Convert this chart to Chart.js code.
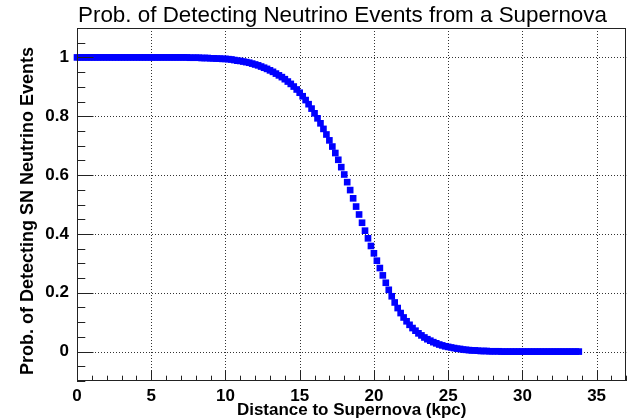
<!DOCTYPE html>
<html>
<head>
<meta charset="utf-8">
<script src="https://cdn.jsdelivr.net/npm/chart.js@4.4.1/dist/chart.umd.min.js"></script>
<style>
  html, body { margin: 0; padding: 0; background: #fff; }
  #wrap { width: 631px; height: 420px; }
</style>
</head>
<body>
<div id="wrap"><canvas id="snChart" width="631" height="420"></canvas></div>
<script>
// distance to the supernova (kpc), one marker every 0.2 kpc
const distances = [
  0, 0.2, 0.4, 0.6, 0.8, 1, 1.2, 1.4, 1.6, 1.8,
  2, 2.2, 2.4, 2.6, 2.8, 3, 3.2, 3.4, 3.6, 3.8,
  4, 4.2, 4.4, 4.6, 4.8, 5, 5.2, 5.4, 5.6, 5.8,
  6, 6.2, 6.4, 6.6, 6.8, 7, 7.2, 7.4, 7.6, 7.8,
  8, 8.2, 8.4, 8.6, 8.8, 9, 9.2, 9.4, 9.6, 9.8,
  10, 10.2, 10.4, 10.6, 10.8, 11, 11.2, 11.4, 11.6, 11.8,
  12, 12.2, 12.4, 12.6, 12.8, 13, 13.2, 13.4, 13.6, 13.8,
  14, 14.2, 14.4, 14.6, 14.8, 15, 15.2, 15.4, 15.6, 15.8,
  16, 16.2, 16.4, 16.6, 16.8, 17, 17.2, 17.4, 17.6, 17.8,
  18, 18.2, 18.4, 18.6, 18.8, 19, 19.2, 19.4, 19.6, 19.8,
  20, 20.2, 20.4, 20.6, 20.8, 21, 21.2, 21.4, 21.6, 21.8,
  22, 22.2, 22.4, 22.6, 22.8, 23, 23.2, 23.4, 23.6, 23.8,
  24, 24.2, 24.4, 24.6, 24.8, 25, 25.2, 25.4, 25.6, 25.8,
  26, 26.2, 26.4, 26.6, 26.8, 27, 27.2, 27.4, 27.6, 27.8,
  28, 28.2, 28.4, 28.6, 28.8, 29, 29.2, 29.4, 29.6, 29.8,
  30, 30.2, 30.4, 30.6, 30.8, 31, 31.2, 31.4, 31.6, 31.8,
  32, 32.2, 32.4, 32.6, 32.8, 33, 33.2, 33.4, 33.6, 33.8
];

// probability of detecting the SN neutrino events
const probability = [
  1, 1, 1, 1, 1, 1, 1, 1, 1, 1,
  1, 1, 1, 1, 1, 1, 1, 1, 1, 1,
  1, 1, 1, 1, 1, 1, 1, 1, 1, 1,
  1, 1, 1, 1, 1, 1, 1, 1, 0.999, 0.999,
  0.999, 0.999, 0.998, 0.998, 0.998, 0.997, 0.997, 0.996, 0.996, 0.995,
  0.995, 0.994, 0.993, 0.991, 0.989, 0.988, 0.986, 0.984, 0.982, 0.979,
  0.976, 0.973, 0.969, 0.965, 0.961, 0.956, 0.951, 0.945, 0.939, 0.933,
  0.926, 0.918, 0.910, 0.901, 0.891, 0.880, 0.868, 0.855, 0.841, 0.826,
  0.810, 0.793, 0.776, 0.757, 0.738, 0.718, 0.697, 0.675, 0.652, 0.627,
  0.602, 0.576, 0.549, 0.521, 0.493, 0.466, 0.438, 0.411, 0.385, 0.359,
  0.334, 0.309, 0.284, 0.259, 0.234, 0.210, 0.188, 0.167, 0.148, 0.131,
  0.116, 0.103, 0.091, 0.080, 0.071, 0.062, 0.055, 0.048, 0.042, 0.037,
  0.032, 0.028, 0.024, 0.021, 0.018, 0.016, 0.014, 0.012, 0.010, 0.009,
  0.007, 0.006, 0.005, 0.004, 0.004, 0.003, 0.002, 0.002, 0.002, 0.001,
  0.001, 0.001, 0.001, 0, 0, 0, 0, 0, 0, 0,
  0, 0, 0, 0, 0, 0, 0, 0, 0, 0,
  0, 0, 0, 0, 0, 0, 0, 0, 0, 0
];

const xTicks = [0, 5, 10, 15, 20, 25, 30, 35];
const yTicks = [0, 0.2, 0.4, 0.6, 0.8, 1];

const titleText = 'Prob. of Detecting Neutrino Events from a Supernova';
const xTitle = 'Distance to Supernova (kpc)';
const yTitle = 'Prob. of Detecting SN Neutrino Events';

const FONT = '"Liberation Sans", Arial, Helvetica, sans-serif';

// ROOT-like frame: dotted grid, inside ticks, titles
const rootFrame = {
    id: 'rootFrame',
    beforeDatasetsDraw(chart) {
        const { ctx, chartArea: a, scales: { x, y } } = chart;
        ctx.save();
        ctx.strokeStyle = '#333';
        ctx.lineWidth = 1;
        ctx.setLineDash([1, 2]);
        ctx.beginPath();
        xTicks.forEach(v => {
            const px = Math.round(x.getPixelForValue(v)) + 0.5;
            ctx.moveTo(px, a.top);
            ctx.lineTo(px, a.bottom);
        });
        yTicks.forEach(v => {
            const py = Math.round(y.getPixelForValue(v)) + 0.5;
            ctx.moveTo(a.left, py);
            ctx.lineTo(a.right, py);
        });
        ctx.stroke();
        ctx.restore();
    },
    afterDatasetsDraw(chart) {
        const { ctx, chartArea: a, scales: { x, y } } = chart;
        ctx.save();
        ctx.strokeStyle = '#222';
        ctx.lineWidth = 1;
        ctx.setLineDash([]);
        ctx.strokeRect(Math.round(a.left) + 0.5, Math.round(a.top) + 0.5,
            Math.round(a.right - a.left) - 1, Math.round(a.bottom - a.top) - 1);

        ctx.beginPath();
        for (let v = 0; v <= x.max; v += 1) {
            const px = Math.round(x.getPixelForValue(v)) + 0.5;
            const len = v % 5 === 0 ? 10.5 : 5.3;
            ctx.moveTo(px, a.bottom);
            ctx.lineTo(px, a.bottom - len);
        }
        for (let i = -2; i <= 22; i++) {
            const v = i * 0.05;
            const py = Math.round(y.getPixelForValue(v)) + 0.5;
            const len = i % 4 === 0 ? 16.5 : 8.3;
            ctx.moveTo(a.left, py);
            ctx.lineTo(a.left + len, py);
        }
        ctx.stroke();

        ctx.fillStyle = '#000';
        ctx.font = '22.4px ' + FONT;
        ctx.textAlign = 'left';
        ctx.textBaseline = 'alphabetic';
        ctx.fillText(titleText, 78, 22);

        ctx.font = 'bold 17px ' + FONT;
        ctx.textAlign = 'center';
        ctx.fillText(xTitle, (a.left + a.right) / 2, 415);

        ctx.font = 'bold 18px ' + FONT;
        ctx.translate(33, 211);
        ctx.rotate(-Math.PI / 2);
        ctx.fillText(yTitle, 0, 0);
        ctx.restore();
    }
};

new Chart(document.getElementById('snChart'), {
    type: 'scatter',
    data: {
        datasets: [{
            data: distances.map((d, i) => ({ x: d, y: probability[i] })),
            pointStyle: 'rect',
            pointRadius: 4.7,
            pointHoverRadius: 4.7,
            backgroundColor: '#0000ff',
            borderWidth: 0,
            clip: false
        }]
    },
    options: {
        responsive: false,
        animation: false,
        devicePixelRatio: 1,
        layout: { padding: { top: 28, right: 4, left: 0, bottom: 0 } },
        plugins: {
            legend: { display: false },
            tooltip: { enabled: false }
        },
        scales: {
            x: {
                type: 'linear',
                min: 0,
                max: 37,
                grid: { display: false, drawTicks: false },
                border: { display: false },
                afterBuildTicks: s => { s.ticks = xTicks.map(v => ({ value: v })); },
                afterFit: s => { s.height = 39; },
                ticks: {
                    padding: 5,
                    color: '#000',
                    maxRotation: 0,
                    autoSkip: false,
                    font: { family: FONT, size: 17, weight: 'bold' },
                    callback: v => String(v)
                }
            },
            y: {
                type: 'linear',
                min: -0.1,
                max: 1.1,
                grid: { display: false, drawTicks: false },
                border: { display: false },
                afterBuildTicks: s => { s.ticks = yTicks.map(v => ({ value: v })); },
                afterFit: s => { s.width = 77; },
                ticks: {
                    padding: 8,
                    color: '#000',
                    autoSkip: false,
                    font: { family: FONT, size: 17, weight: 'bold' },
                    callback: v => String(v)
                }
            }
        }
    },
    plugins: [rootFrame]
});
</script>
</body>
</html>
